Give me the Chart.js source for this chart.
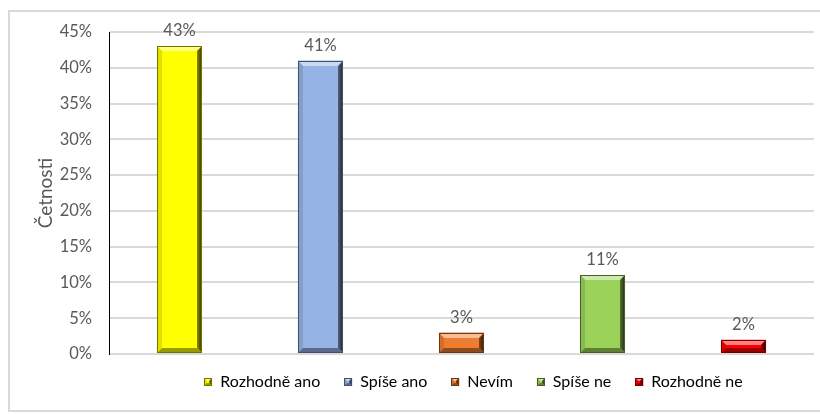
<!DOCTYPE html>
<html>
<head>
<meta charset="utf-8">
<script src="https://cdn.jsdelivr.net/npm/chart.js@4/dist/chart.umd.min.js"></script>
<style>
  html, body { margin: 0; padding: 0; background: #fff; }
  #chart { display: block; }
</style>
</head>
<body>
<canvas id="chart" width="820" height="414"></canvas>
<script>
// answers and their share of respondents (%)
const CATEGORIES = ['Rozhodně ano', 'Spíše ano', 'Nevím', 'Spíše ne', 'Rozhodně ne'];
const SHARES     = [43, 41, 3, 11, 2];
const BAR_COLORS = ['#ffff00', '#95b3e4', '#ed7d31', '#9bd35a', '#ff0000'];
const Y_MAX  = 45;
const Y_STEP = 5;

const FONT = "Lato, 'Open Sans', sans-serif";
const TEXT = '#595959';

// lighten (amt > 0) or darken (amt < 0) a hex colour
function shade(hex, amt) {
  const n = parseInt(hex.slice(1), 16);
  const ch = [(n >> 16) & 255, (n >> 8) & 255, n & 255].map(v =>
    Math.round(amt >= 0 ? v + (255 - v) * amt : v * (1 + amt)));
  return `rgb(${ch[0]},${ch[1]},${ch[2]})`;
}

function face(ctx, pts, fill) {
  ctx.beginPath();
  ctx.moveTo(pts[0][0], pts[0][1]);
  for (let k = 1; k < pts.length; k++) ctx.lineTo(pts[k][0], pts[k][1]);
  ctx.closePath();
  ctx.fillStyle = fill;
  ctx.fill();
}

// beveled block: light top, dark right / bottom edges
function bevelBox(ctx, l, t, r, b, color, edge) {
  const e = Math.min(edge, (b - t) / 2, (r - l) / 2);
  ctx.save();
  ctx.fillStyle = color;
  ctx.fillRect(l, t, r - l, b - t);
  face(ctx, [[l, t], [r, t], [r - e, t + e], [l + e, t + e]], shade(color, 0.5));
  face(ctx, [[l, t], [l + e, t + e], [l + e, b - e], [l, b]], shade(color, -0.12));
  const g = ctx.createLinearGradient(r - e, 0, r, 0);
  g.addColorStop(0, shade(color, -0.45));
  g.addColorStop(1, shade(color, -0.8));
  face(ctx, [[r, t], [r, b], [r - e, b - e], [r - e, t + e]], g);
  face(ctx, [[l, b], [l + e, b - e], [r - e, b - e], [r, b]], shade(color, -0.4));
  ctx.strokeStyle = shade(color, -0.55);
  ctx.lineWidth = 1;
  ctx.strokeRect(l + 0.5, t + 0.5, r - l - 1, b - t - 1);
  ctx.restore();
}

const chartFrame = {
  id: 'chartFrame',
  beforeDraw(chart) {
    const { ctx } = chart;
    ctx.save();
    ctx.fillStyle = '#fff';
    ctx.fillRect(0, 0, chart.width, chart.height);
    ctx.strokeStyle = '#d9d9d9';
    ctx.lineWidth = 2;
    ctx.strokeRect(9, 11, 900, 400);
    ctx.restore();
  },
  afterLayout(chart) {
    // nudge the legend row right and up
    const lg = chart.legend;
    lg.left += 12;
    lg.right += 12;
    lg.top -= 4;
    lg.bottom -= 4;
  },
};

const bevelBars = {
  id: 'bevelBars',
  afterDatasetsDraw(chart) {
    const { ctx } = chart;
    chart.getDatasetMeta(0).data.forEach((bar, i) => {
      const { x, y, base, width } = bar.getProps(['x', 'y', 'base', 'width'], true);
      const l = Math.round(x - width / 2), r = Math.round(x + width / 2);
      const t = Math.round(y), b = Math.round(base);
      bevelBox(ctx, l, t, r, b, BAR_COLORS[i], 5);
      ctx.save();
      ctx.font = `16.5px ${FONT}`;
      ctx.fillStyle = TEXT;
      ctx.textAlign = 'center';
      ctx.textBaseline = 'alphabetic';
      ctx.fillText(SHARES[i] + '%', x, t - 10);
      ctx.restore();
    });
  },
  afterDraw(chart) {
    const { ctx } = chart;
    (chart.legend.legendHitBoxes || []).forEach((hb, i) => {
      const top = Math.round(hb.top + 4);
      const left = Math.round(hb.left);
      bevelBox(ctx, left, top, left + 8, top + 8, BAR_COLORS[i], 3);
    });
  },
};

new Chart(document.getElementById('chart'), {
  type: 'bar',
  data: {
    labels: CATEGORIES,
    datasets: [{
      data: SHARES,
      backgroundColor: BAR_COLORS,
      borderWidth: 0,
      barPercentage: 0.32,
      categoryPercentage: 1,
    }],
  },
  options: {
    responsive: false,
    animation: false,
    layout: { padding: { top: 32, right: 6, left: 0, bottom: 10 } },
    plugins: {
      tooltip: { enabled: false },
      legend: {
        position: 'bottom',
        fullSize: false,
        labels: {
          boxWidth: 8,
          boxHeight: 8,
          padding: 24,
          color: TEXT,
          font: { family: FONT, size: 16 },
          generateLabels: () => CATEGORIES.map((c, i) => ({
            text: c,
            fillStyle: BAR_COLORS[i],
            strokeStyle: BAR_COLORS[i],
            lineWidth: 0,
            index: i,
          })),
        },
      },
    },
    scales: {
      x: {
        ticks: { display: false },
        grid: { display: false },
        border: { display: false },
        afterFit: s => { s.height = 0; },
      },
      y: {
        min: 0,
        max: Y_MAX,
        ticks: {
          stepSize: Y_STEP,
          color: TEXT,
          padding: 17,
          font: { family: FONT, size: 16.5 },
          callback: v => v + '%',
        },
        grid: { color: '#d9d9d9', lineWidth: 2, drawTicks: false },
        border: { color: '#000', width: 1 },
        title: {
          display: true,
          text: 'Četnosti',
          color: TEXT,
          font: { family: FONT, size: 19 },
          padding: { top: 34, bottom: 0 },
        },
        afterFit: s => { s.width = 109; },
      },
    },
  },
  plugins: [chartFrame, bevelBars],
});
</script>
</body>
</html>
